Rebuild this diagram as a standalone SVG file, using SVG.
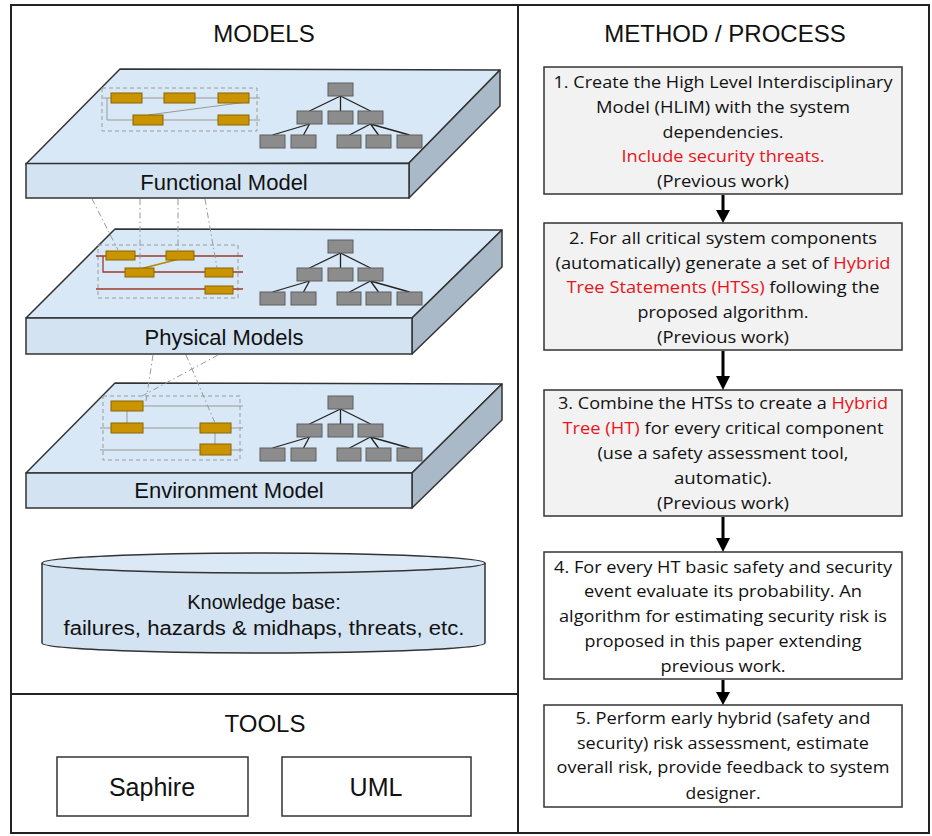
<svg xmlns="http://www.w3.org/2000/svg" width="932" height="836" viewBox="0 0 932 836">
<style>
.frame{fill:none;stroke:#222;stroke-width:2}
.top{fill:#d9e8f6;stroke:#333;stroke-width:1.5;stroke-linejoin:round}
.front{fill:#d3e3f2;stroke:#333;stroke-width:1.5}
.side{fill:#a9b9c8;stroke:#333;stroke-width:1.5;stroke-linejoin:round}
.gb{fill:#8c8c8c;stroke:#5e5e5e;stroke-width:1}
.tl{stroke:#222;stroke-width:1.3;fill:none}
.gold{fill:#c99400;stroke:#8a6500;stroke-width:1}
.dbox{fill:none;stroke:#9a9a9a;stroke-width:1;stroke-dasharray:4 3}
.gl{stroke:#999;stroke-width:1;fill:none}
.rl{stroke:#9c3b2b;stroke-width:1.3;fill:none}
.dd{stroke:#999;stroke-width:1;fill:none;stroke-dasharray:6 3 1.5 3}
.ttl{font-family:"Liberation Sans",Arial,sans-serif;font-size:24px;fill:#111;text-anchor:middle}
.lbl{font-family:"Liberation Sans",Arial,sans-serif;font-size:22px;fill:#111;text-anchor:middle}
.kb{font-family:"Liberation Sans",Arial,sans-serif;font-size:20px;fill:#111;text-anchor:middle}
.step{fill:#f2f2f2;stroke:#333;stroke-width:1.5}
.step2{fill:#fff;stroke:#333;stroke-width:1.5}
.st{font-family:"Open Sans","Noto Sans",sans-serif;font-size:17px;fill:#111;text-anchor:middle}
.red{fill:#e8141b}
.tool{fill:#fff;stroke:#333;stroke-width:1.5}
.arr{stroke:#000;stroke-width:3;fill:none}
</style>
<defs>
<g id="tree">
<path class="tl" d="M340.5,13 L309.5,28 M340.5,13 L340.5,28 M340.5,13 L370.5,28 M309.5,41 L272.5,52 M309.5,41 L303.5,52 M370.5,41 L349.5,52 M370.5,41 L378.5,52 M370.5,41 L409.5,52"/>
<rect class="gb" x="328" y="0" width="25" height="13"/>
<rect class="gb" x="297" y="28" width="25" height="13"/>
<rect class="gb" x="328" y="28" width="25" height="13"/>
<rect class="gb" x="358" y="28" width="25" height="13"/>
<rect class="gb" x="260" y="52" width="25" height="13"/>
<rect class="gb" x="291" y="52" width="25" height="13"/>
<rect class="gb" x="337" y="52" width="24" height="13"/>
<rect class="gb" x="366" y="52" width="25" height="13"/>
<rect class="gb" x="397" y="52" width="25" height="13"/>
</g>
<marker id="ah" markerUnits="userSpaceOnUse" markerWidth="16" markerHeight="14" refX="7" refY="13" orient="auto-start-reverse" viewBox="0 0 14 14">
<path d="M0,0 L14,0 L7,13 Z" fill="#000" transform="rotate(0)"/>
</marker>
</defs>

<rect fill="#fff" x="0" y="0" width="932" height="836"/>
<rect class="frame" x="11" y="5" width="918" height="828"/>
<line class="frame" x1="518" y1="5" x2="518" y2="833"/>
<line class="frame" x1="11" y1="694" x2="518" y2="694"/>

<text class="ttl" x="264" y="42">MODELS</text>
<text class="ttl" x="725" y="42">METHOD / PROCESS</text>

<g id="functional-model">
<polygon class="top" points="120,69 500,70 409,163 26,164"/>
<polygon class="side" points="409,163 500,70 500,106 409,198"/>
<rect class="front" x="26" y="163.5" width="383" height="34.5"/>
<rect class="dbox" x="102" y="88" width="155" height="43"/>
<path class="gl" d="M103,98 L260,98 M107,98 L107,120 L260,120 M148,115 L247,102"/>
<rect class="gold" x="111" y="93" width="31" height="10"/>
<rect class="gold" x="164" y="93" width="31" height="10"/>
<rect class="gold" x="218" y="93" width="31" height="10"/>
<rect class="gold" x="133" y="115" width="30" height="10"/>
<rect class="gold" x="218" y="115" width="31" height="10"/>
<use href="#tree" transform="translate(0,83)"/>
<text class="lbl" x="224" y="190">Functional Model</text>
</g>

<g id="physical-models">
<polygon class="top" points="115,229 502,230 412,318 26,318"/>
<polygon class="side" points="412,318 502,230 502,267 412,354"/>
<rect class="front" x="26" y="318" width="386" height="36"/>
<rect class="dbox" x="98" y="245" width="140" height="53"/>
<path class="rl" d="M96,256 L243,256 M103,256 L103,272 L243,272 M96,289 L243,289"/>
<path stroke="#b08a00" stroke-width="1.5" d="M140,269 L183,258"/>
<rect class="gold" x="106" y="251" width="29" height="9"/>
<rect class="gold" x="166" y="251" width="28" height="9"/>
<rect class="gold" x="125" y="268" width="29" height="9"/>
<rect class="gold" x="205" y="268" width="28" height="9"/>
<rect class="gold" x="205" y="286" width="28" height="8"/>
<use href="#tree" transform="translate(0,240)"/>
<text class="lbl" x="224" y="345">Physical Models</text>
</g>

<g id="environment-model">
<polygon class="top" points="115,383 502,384 412,473 26,473"/>
<polygon class="side" points="412,473 502,384 502,420 412,508"/>
<rect class="front" x="26" y="473" width="386" height="35"/>
<rect class="dbox" x="103" y="396" width="137" height="64"/>
<path class="gl" d="M143,406 L243,406 M100,428 L243,428 M100,450 L243,450 M127,411 L127,423 M215,433 L215,444"/>
<rect class="gold" x="111" y="401" width="32" height="10"/>
<rect class="gold" x="111" y="423" width="32" height="10"/>
<rect class="gold" x="200" y="423" width="31" height="10"/>
<rect class="gold" x="200" y="444" width="31" height="11"/>
<use href="#tree" transform="translate(0,396)"/>
<text class="lbl" x="229" y="498">Environment Model</text>
</g>

<g id="model-links">
<path class="dd" d="M92,199 L118,250"/>
<path class="dd" d="M140,199 L140,268"/>
<path class="dd" d="M178,199 L178,251"/>
<path class="dd" d="M205,199 L217,268"/>
<path class="dd" d="M153,355 L146,401"/>
<path class="dd" d="M186,355 L215,423"/>
<path class="dd" d="M218,355 L142,396"/>
</g>

<g id="knowledge-base">
<path fill="#d3e3f2" stroke="#333" stroke-width="1.5" d="M42,563 L42,643 A221.5,10 0 0 0 485,643 L485,563"/>
<ellipse cx="263.5" cy="563" rx="221.5" ry="10" fill="#dbe9f6" stroke="#333" stroke-width="1.5"/>
<text class="kb" x="264" y="609">Knowledge base:</text>
<text class="kb" x="264" y="635" textLength="401" lengthAdjust="spacingAndGlyphs">failures, hazards &amp; midhaps, threats, etc.</text>
</g>

<text class="ttl" x="265" y="732">TOOLS</text>
<g id="saphire">
<rect class="tool" x="57" y="757" width="191" height="59"/>
<text class="ttl" x="152" y="796" style="font-size:25px">Saphire</text>
</g>
<g id="uml">
<rect class="tool" x="282" y="757" width="189" height="59"/>
<text class="ttl" x="376" y="796" style="font-size:25px">UML</text>
</g>

<g id="step1">
<rect class="step" x="544" y="67" width="358" height="127"/>
<text class="st" x="723" y="88" textLength="339" lengthAdjust="spacingAndGlyphs">1. Create the High Level Interdisciplinary</text>
<text class="st" x="723" y="113" textLength="254" lengthAdjust="spacingAndGlyphs">Model (HLIM) with the system</text>
<text class="st" x="723" y="138" textLength="121" lengthAdjust="spacingAndGlyphs">dependencies.</text>
<text class="st red" x="723" y="162" textLength="203" lengthAdjust="spacingAndGlyphs">Include security threats.</text>
<text class="st" x="723" y="187" textLength="132" lengthAdjust="spacingAndGlyphs">(Previous work)</text>
</g>
<g id="step2">
<rect class="step" x="544" y="223" width="358" height="127"/>
<text class="st" x="723" y="244" textLength="308" lengthAdjust="spacingAndGlyphs">2. For all critical system components</text>
<text class="st" x="723" y="269" textLength="335" lengthAdjust="spacingAndGlyphs">(automatically) generate a set of <tspan class="red">Hybrid</tspan></text>
<text class="st" x="723" y="293" textLength="313" lengthAdjust="spacingAndGlyphs"><tspan class="red">Tree Statements (HTSs)</tspan> following the</text>
<text class="st" x="723" y="318" textLength="171" lengthAdjust="spacingAndGlyphs">proposed algorithm.</text>
<text class="st" x="723" y="343" textLength="132" lengthAdjust="spacingAndGlyphs">(Previous work)</text>
</g>
<g id="step3">
<rect class="step" x="544" y="390" width="358" height="126"/>
<text class="st" x="723" y="409" textLength="330" lengthAdjust="spacingAndGlyphs">3. Combine the HTSs to create a <tspan class="red">Hybrid</tspan></text>
<text class="st" x="723" y="434" textLength="321" lengthAdjust="spacingAndGlyphs"><tspan class="red">Tree (HT)</tspan> for every critical component</text>
<text class="st" x="723" y="459" textLength="251" lengthAdjust="spacingAndGlyphs">(use a safety assessment tool,</text>
<text class="st" x="723" y="484" textLength="98" lengthAdjust="spacingAndGlyphs">automatic).</text>
<text class="st" x="723" y="509" textLength="132" lengthAdjust="spacingAndGlyphs">(Previous work)</text>
</g>
<g id="step4">
<rect class="step2" x="544" y="552" width="358" height="127"/>
<text class="st" x="723" y="573" textLength="338" lengthAdjust="spacingAndGlyphs">4. For every HT basic safety and security</text>
<text class="st" x="723" y="597" textLength="278" lengthAdjust="spacingAndGlyphs">event evaluate its probability. An</text>
<text class="st" x="723" y="622" textLength="328" lengthAdjust="spacingAndGlyphs">algorithm for estimating security risk is</text>
<text class="st" x="723" y="647" textLength="277" lengthAdjust="spacingAndGlyphs">proposed in this paper extending</text>
<text class="st" x="723" y="672" textLength="125" lengthAdjust="spacingAndGlyphs">previous work.</text>
</g>
<g id="step5">
<rect class="step2" x="544" y="705" width="358" height="102"/>
<text class="st" x="723" y="724" textLength="295" lengthAdjust="spacingAndGlyphs">5. Perform early hybrid (safety and</text>
<text class="st" x="723" y="749" textLength="292" lengthAdjust="spacingAndGlyphs">security) risk assessment, estimate</text>
<text class="st" x="723" y="773" textLength="333" lengthAdjust="spacingAndGlyphs">overall risk, provide feedback to system</text>
<text class="st" x="723" y="799" textLength="75" lengthAdjust="spacingAndGlyphs">designer.</text>
</g>

<g id="connectors">
<line class="arr" x1="723" y1="195" x2="723" y2="211"/>
<polygon points="716,210 730,210 723,223" fill="#000"/>
<line class="arr" x1="723" y1="351" x2="723" y2="377"/>
<polygon points="716,376 730,376 723,390" fill="#000"/>
<line class="arr" x1="723" y1="517" x2="723" y2="539"/>
<polygon points="716,538 730,538 723,552" fill="#000"/>
<line class="arr" x1="723" y1="680" x2="723" y2="693"/>
<polygon points="716,692 730,692 723,705" fill="#000"/>
</g>
</svg>
